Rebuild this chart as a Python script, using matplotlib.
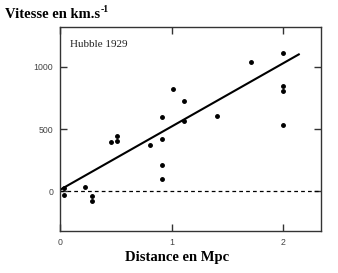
import matplotlib
matplotlib.use("Agg")
import numpy as np
import matplotlib.pyplot as plt

# Hubble 1929 data
distance = [0.04, 0.04, 0.22, 0.29, 0.29, 0.46, 0.51, 0.51, 0.81, 0.91, 0.91,
            0.91, 0.91, 1.01, 1.11, 1.11, 1.41, 1.71, 2.0, 2.0, 2.0, 2.0]
vitesse = [22, -30, 32, -38, -81, 392, 406, 443, 373, 594, 422,
           212, 97, 822, 725, 564, 607, 1042, 1110, 846, 806, 532]

# droite d'ajustement
fit_x = [0.0, 2.14]
fit_slope = 510
fit_intercept = 10

x_ticks = [0, 1, 2]
y_ticks = [0, 500, 1000]

fig = plt.figure(figsize=(3.38, 2.73), dpi=100)
ax = fig.add_axes([0.1775, 0.1538, 0.7725, 0.7472])

ax.axhline(0, color='black', lw=0.9, ls=(0, (3, 2.5)))
fx = np.array(fit_x)
ax.plot(fx, fit_intercept + fit_slope * fx, color='black', lw=1.5)
ax.plot(distance, vitesse, 'o', color='black', markersize=2.5)

ax.set_xlim(0, 2.34)
ax.set_ylim(-322, 1322)
ax.set_xticks(x_ticks)
ax.set_yticks(y_ticks)
ax.tick_params(direction='in', length=5, width=1, top=True, right=True,
               labelsize=6.3, labelcolor='#444444', color='#333333', pad=5)
for lab in ax.get_xticklabels() + ax.get_yticklabels():
    lab.set_family('Liberation Sans')
for s in ax.spines.values():
    s.set_color('#333333')
    s.set_linewidth(1)

ax.text(0.04, 0.935, 'Hubble 1929', transform=ax.transAxes, fontsize=8,
        family='Liberation Serif', va='top', ha='left', color='#222222')

ylab = fig.text(5 / 338, 1 - 14 / 273, 'Vitesse en km.s', fontsize=10.5,
                family='Liberation Serif', fontweight='bold', va='center', ha='left')
fig.canvas.draw()
bb = ylab.get_window_extent().transformed(fig.transFigure.inverted())
fig.text(bb.x1 + 0.002, bb.y1 - 0.006, '-1', fontsize=7,
         family='Liberation Serif', fontweight='bold', va='center', ha='left')
fig.text(177 / 338, 1 - 258 / 273, 'Distance en Mpc', fontsize=10.5,
         family='Liberation Serif', fontweight='bold', va='center', ha='center')

fig.savefig('out.png', dpi=100)
